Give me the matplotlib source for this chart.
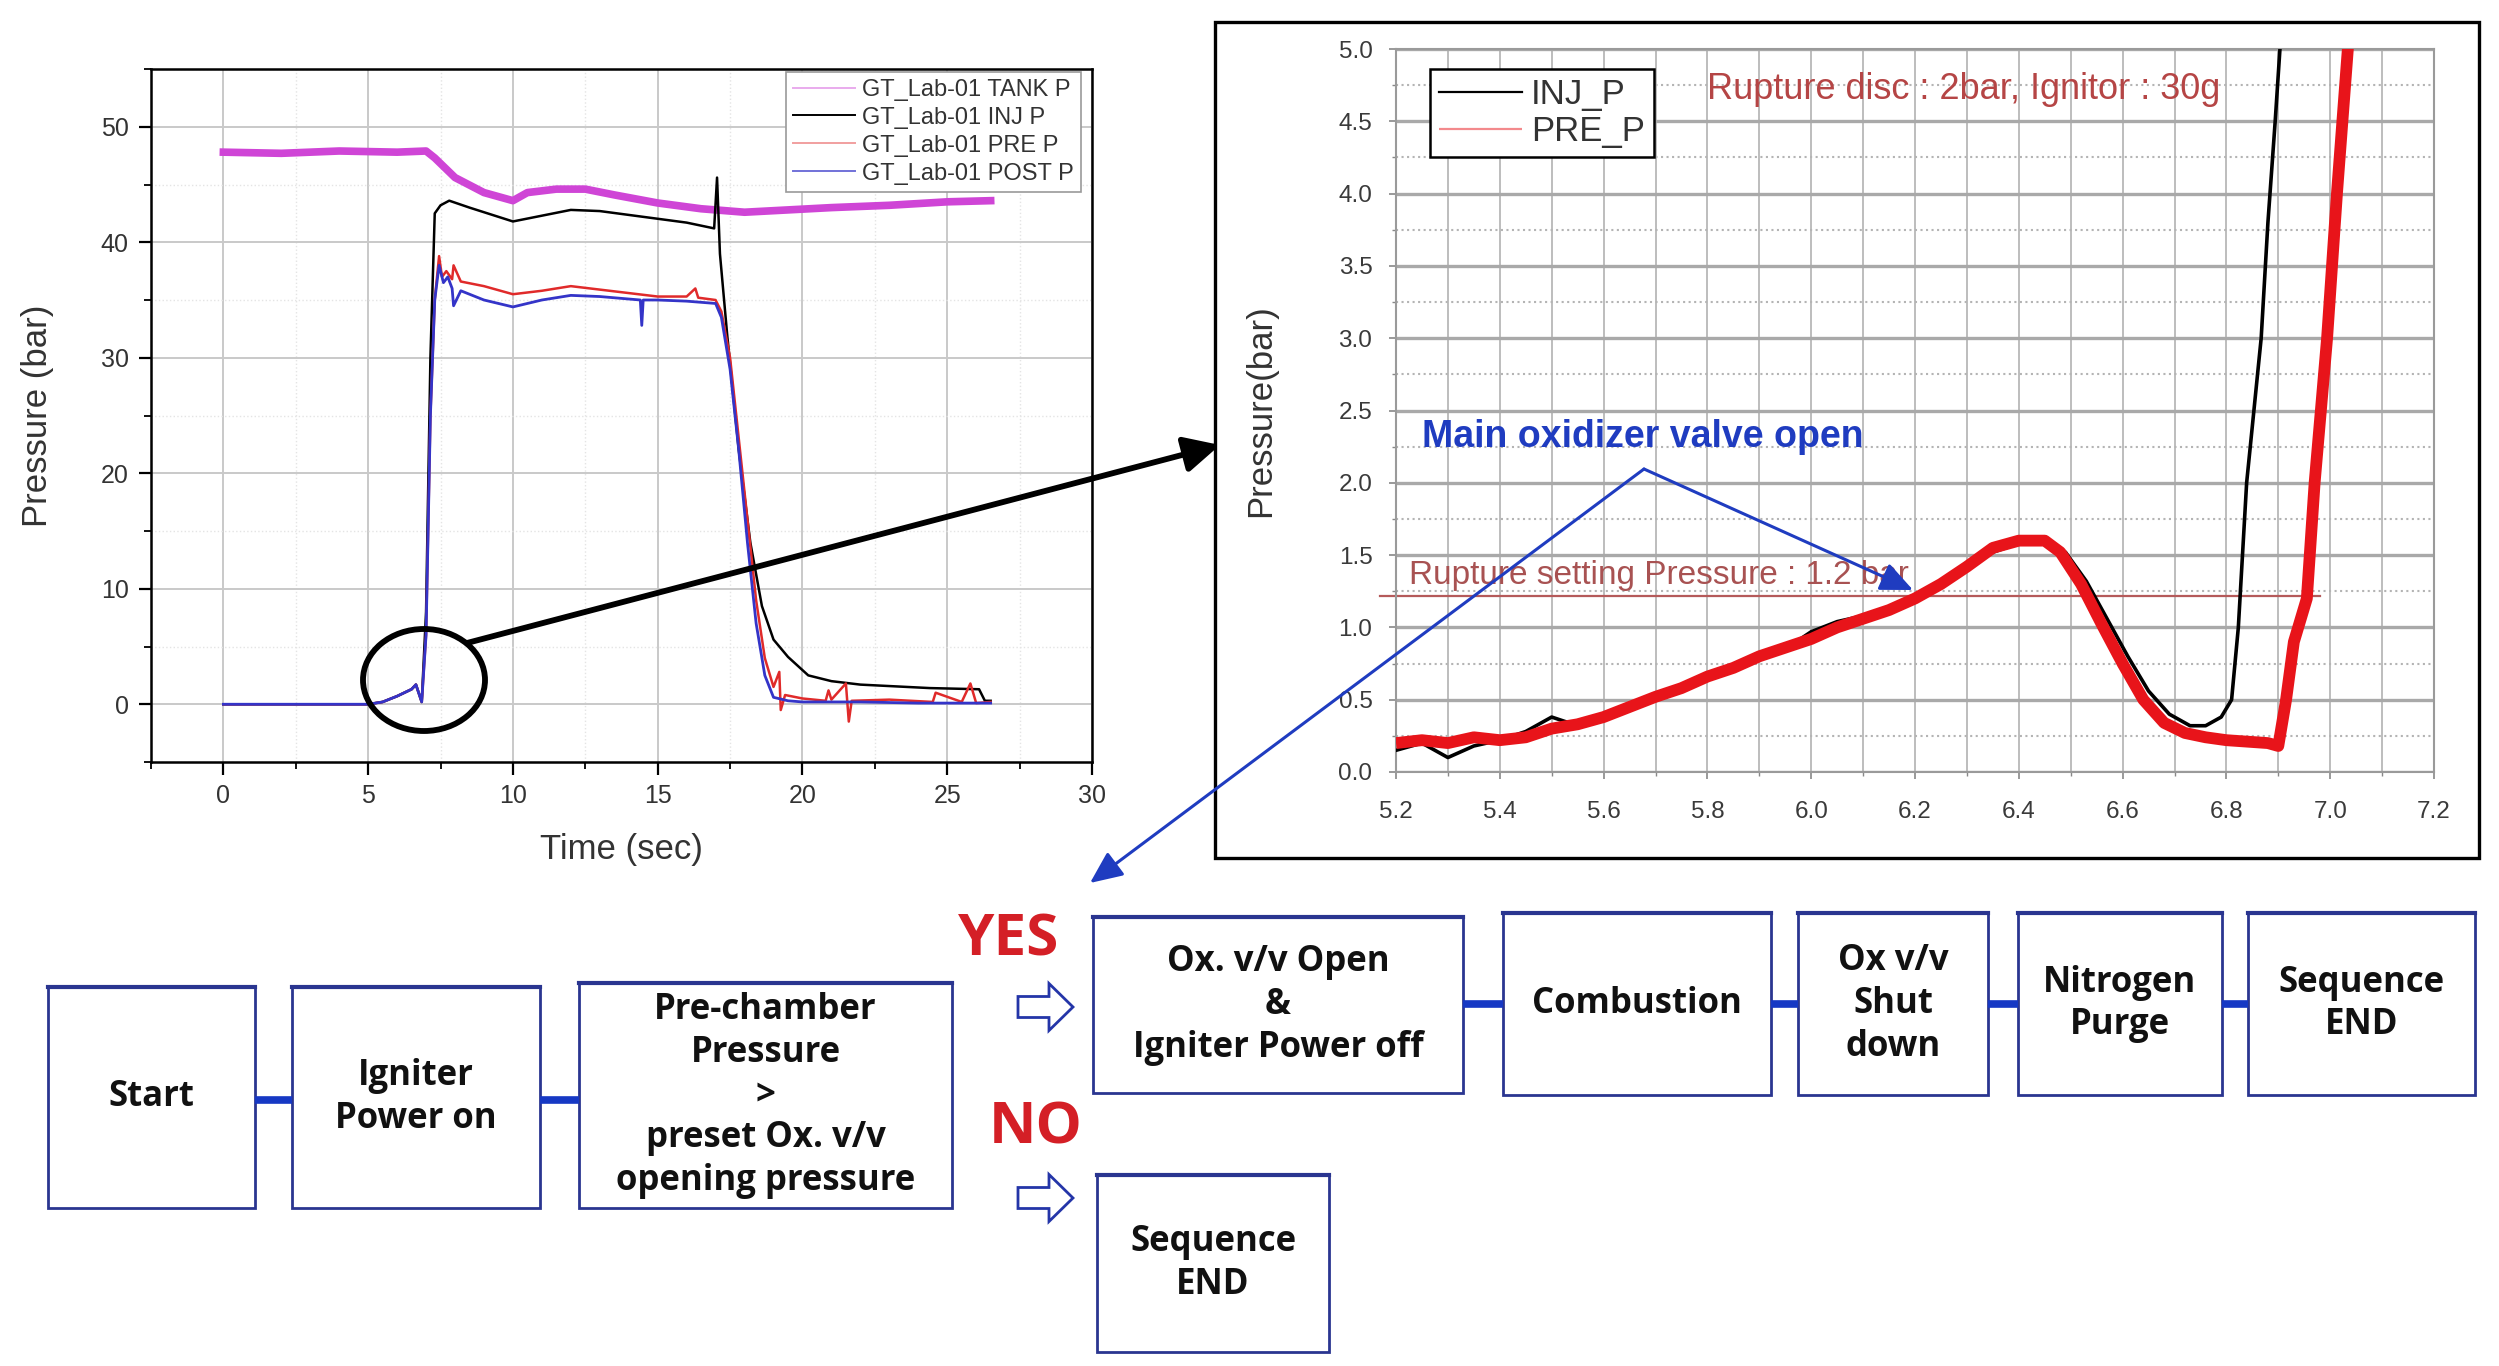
#!/usr/bin/env python3
"""Igniter sequence test: pressure history, zoomed start-up and control flow."""

import matplotlib
matplotlib.use("Agg")
import matplotlib.pyplot as plt
from matplotlib.patches import Ellipse, Polygon, Rectangle
from matplotlib.ticker import FormatStrFormatter, MultipleLocator

W, H = 2499, 1366

# ---- full firing, left panel ----
TANK_T = [0, 2, 4, 6, 7.0, 7.3, 8.0, 9.0, 10.0, 10.5, 11.5, 12.5, 13.5, 15.0, 16.5,
          18.0, 19.5, 21.0, 23.0, 25.0, 26.5]
TANK_P = [47.8, 47.7, 47.9, 47.8, 47.9, 47.3, 45.6, 44.3, 43.6, 44.3, 44.6, 44.6, 44.1,
          43.4, 42.9, 42.6, 42.8, 43.0, 43.2, 43.5, 43.6]

INJ_T = [0, 5.0, 5.5, 6.0, 6.5, 6.65, 6.85, 7.0, 7.15, 7.3, 7.5, 7.8, 8.5, 9.5, 10.0, 11.0,
         12.0, 13.0, 14.5, 16.0, 16.95, 17.05, 17.15, 17.4, 17.8, 18.2, 18.6, 19.0, 19.5,
         20.2, 21.0, 22.0, 24.4, 26.1, 26.3, 26.5]
INJ_P = [0, 0, 0.2, 0.7, 1.3, 1.7, 0.2, 8.0, 30.0, 42.5, 43.2, 43.6, 43.0, 42.2, 41.8, 42.3,
         42.8, 42.7, 42.2, 41.7, 41.2, 45.6, 39.0, 32.0, 22.0, 14.0, 8.5, 5.6, 4.1,
         2.5, 2.0, 1.7, 1.4, 1.3, 0.3, 0.3]

PRE_T = [0, 5.0, 5.5, 6.0, 6.5, 6.65, 6.85, 7.0, 7.15, 7.3, 7.45, 7.55, 7.7, 7.9, 7.95,
         8.2, 9.0, 10.0, 11.0, 12.0, 13.0, 15.0, 16.0, 16.3, 16.4, 17.0, 17.2, 17.5,
         17.8, 18.1, 18.4, 18.7, 19.0, 19.2, 19.25, 19.4, 20.0, 20.8, 20.9, 21.0, 21.5,
         21.6, 21.7, 23.0, 24.5, 24.6, 25.5, 25.8, 26.0, 26.5]
PRE_P = [0, 0, 0.2, 0.7, 1.3, 1.7, 0.2, 6.0, 25.0, 35.0, 38.8, 37.0, 37.5, 36.8, 38.0,
         36.6, 36.2, 35.5, 35.8, 36.2, 35.9, 35.3, 35.3, 36.0, 35.2, 35.0, 34.0, 30.0,
         23.0, 16.0, 9.0, 4.0, 1.5, 2.8, -0.5, 0.8, 0.5, 0.3, 1.2, 0.4, 1.8,
         -1.5, 0.3, 0.4, 0.2, 1.0, 0.2, 1.8, 0.1, 0.2]

POST_T = [0, 5.0, 5.5, 6.0, 6.5, 6.65, 6.85, 7.0, 7.15, 7.3, 7.45, 7.6, 7.75, 7.9, 7.95,
          8.2, 9.0, 10.0, 11.0, 12.0, 13.0, 14.4, 14.45, 14.5, 15.0, 16.0, 17.0, 17.2,
          17.5, 17.8, 18.1, 18.4, 18.7, 19.0, 19.5, 20.0, 22.0, 24.0, 26.5]
POST_P = [0, 0, 0.2, 0.7, 1.3, 1.7, 0.2, 6.0, 25.0, 35.0, 38.0, 36.5, 37.0, 36.0, 34.5,
          35.8, 35.0, 34.4, 35.0, 35.4, 35.3, 35.0, 32.8, 35.0, 35.0, 34.9, 34.7, 33.5,
          29.0, 22.0, 14.0, 7.0, 2.5, 0.6, 0.3, 0.2, 0.2, 0.1, 0.1]

# ---- start-up detail, right panel ----
INJ_X = [5.20, 5.25, 5.30, 5.35, 5.40, 5.45, 5.50, 5.55, 5.60, 5.65, 5.70, 5.75, 5.80,
         5.85, 5.90, 5.95, 6.00, 6.05, 6.10, 6.15, 6.20, 6.25, 6.30, 6.35, 6.40, 6.45,
         6.49, 6.53, 6.57, 6.61, 6.65, 6.69, 6.73, 6.76, 6.79, 6.81, 6.823, 6.839, 6.853,
         6.867, 6.88, 6.894, 6.905]
INJ_Y = [0.15, 0.20, 0.10, 0.18, 0.22, 0.28, 0.38, 0.32, 0.36, 0.45, 0.52, 0.56, 0.68,
         0.72, 0.80, 0.85, 0.97, 1.04, 1.08, 1.12, 1.20, 1.30, 1.42, 1.52, 1.58, 1.58,
         1.52, 1.32, 1.06, 0.80, 0.56, 0.40, 0.32, 0.32, 0.38, 0.50, 1.0, 2.0, 2.5,
         3.0, 3.8, 4.5, 5.1]

PRE_X = [5.20, 5.25, 5.30, 5.35, 5.40, 5.45, 5.50, 5.55, 5.60, 5.65, 5.70, 5.75, 5.80,
         5.85, 5.90, 5.95, 6.00, 6.05, 6.10, 6.15, 6.20, 6.25, 6.30, 6.35, 6.40, 6.45,
         6.48, 6.52, 6.56, 6.60, 6.64, 6.68, 6.72, 6.76, 6.80, 6.84, 6.88, 6.90, 6.915,
         6.93, 6.955, 6.97, 6.994, 7.013, 7.034, 7.04]
PRE_Y = [0.20, 0.22, 0.20, 0.24, 0.22, 0.24, 0.30, 0.33, 0.38, 0.45, 0.52, 0.58, 0.66,
         0.72, 0.80, 0.86, 0.92, 1.00, 1.06, 1.12, 1.20, 1.30, 1.42, 1.55, 1.60, 1.60,
         1.52, 1.30, 1.02, 0.75, 0.50, 0.34, 0.27, 0.24, 0.22, 0.21, 0.20, 0.18, 0.50,
         0.90, 1.20, 2.00, 3.00, 4.00, 5.00, 5.30]

RUPTURE_SET = 1.22

# ---- flow chart (pixel boxes of the sequence) ----
FLOW_BOXES = [
    ((48, 987, 255, 1208), "Start"),
    ((292, 987, 540, 1208), "Igniter\nPower on"),
    ((579, 983, 952, 1208), "Pre-chamber\nPressure\n>\npreset Ox. v/v\nopening pressure"),
    ((1093, 917, 1463, 1093), "Ox. v/v Open\n&\nIgniter Power off"),
    ((1503, 913, 1771, 1095), "Combustion"),
    ((1798, 913, 1988, 1095), "Ox v/v\nShut\ndown"),
    ((2018, 913, 2222, 1095), "Nitrogen\nPurge"),
    ((2248, 913, 2475, 1095), "Sequence\nEND"),
    ((1097, 1175, 1329, 1352), "Sequence\nEND"),
]

BOX_EDGE = "#2a3590"
LINK = "#1638c4"
RED_TXT = "#d41f26"
ANN_BLUE = "#1f3cc0"

fig = plt.figure(figsize=(W / 100, H / 100), dpi=100)
fig.patch.set_facecolor("white")
plt.rcParams["font.family"] = ["Liberation Sans", "DejaVu Sans"]

# ------------------------------------------------------------ left panel
ax1 = fig.add_axes([151 / W, 1 - 762 / H, 941 / W, 693 / H])
ax1.plot(TANK_T, TANK_P, color="#cf45d6", lw=5.5, label="GT_Lab-01 TANK P")
ax1.plot(INJ_T, INJ_P, color="black", lw=1.8, label="GT_Lab-01 INJ P")
ax1.plot(PRE_T, PRE_P, color="#e02a2a", lw=1.8, label="GT_Lab-01 PRE P")
ax1.plot(POST_T, POST_P, color="#3434c8", lw=2.0, label="GT_Lab-01 POST P")
ax1.set_xlim(-2.5, 30)
ax1.set_ylim(-5, 55)
ax1.xaxis.set_major_locator(MultipleLocator(5))
ax1.xaxis.set_minor_locator(MultipleLocator(2.5))
ax1.yaxis.set_major_locator(MultipleLocator(10))
ax1.yaxis.set_minor_locator(MultipleLocator(5))
ax1.set_xticks([0, 5, 10, 15, 20, 25, 30])
ax1.grid(which="major", color="#c9c9c9", lw=1.4)
ax1.grid(which="minor", color="#e4e4e4", lw=1.0, ls=":")
ax1.set_axisbelow(True)
for sp in ax1.spines.values():
    sp.set_linewidth(1.8)
ax1.tick_params(which="major", length=9, width=1.6, labelsize=18, pad=7, labelcolor="#333333")
ax1.tick_params(which="minor", length=5, width=1.3)
ax1.set_xlabel("Time (sec)", fontsize=25, color="#333333", labelpad=18)
ax1.set_ylabel("Pressure (bar)", fontsize=25, color="#333333", labelpad=34)
leg1 = ax1.legend(loc="upper right", bbox_to_anchor=(0.988, 0.996), borderaxespad=0,
                  fontsize=17, labelspacing=0.25, handlelength=2.6, handletextpad=0.3,
                  borderpad=0.3, fancybox=False, framealpha=1, edgecolor="#9a9a9a")
leg1.get_frame().set_linewidth(1.2)
for ln, a in zip(leg1.get_lines(), [0.45, 1.0, 0.45, 0.7]):
    ln.set_linewidth(1.4)
    ln.set_alpha(a)
for t in leg1.get_texts():
    t.set_color("#333333")

# ----------------------------------------------------------- right panel
ax2 = fig.add_axes([1396 / W, 1 - 772 / H, 1038 / W, 723 / H])
ax2.plot(INJ_X, INJ_Y, color="black", lw=2.6, label="INJ_P", zorder=3)
ax2.plot(PRE_X, PRE_Y, color="#e8141a", lw=8.5, solid_capstyle="butt", label="PRE_P", zorder=4)
ax2.plot([5.17, 6.98], [RUPTURE_SET, RUPTURE_SET], color="#b55a5a", lw=1.6, zorder=2,
         clip_on=False)
ax2.set_xlim(5.2, 7.2)
ax2.set_ylim(0, 5.0)
ax2.xaxis.set_major_locator(MultipleLocator(0.2))
ax2.xaxis.set_minor_locator(MultipleLocator(0.1))
ax2.yaxis.set_major_locator(MultipleLocator(0.5))
ax2.yaxis.set_minor_locator(MultipleLocator(0.25))
ax2.xaxis.set_major_formatter(FormatStrFormatter("%.1f"))
ax2.yaxis.set_major_formatter(FormatStrFormatter("%.1f"))
ax2.grid(which="major", axis="y", color="#a9a9a9", lw=2.4)
ax2.grid(which="minor", axis="y", color="#b4b4b4", lw=1.5, ls=":")
ax2.grid(which="both", axis="x", color="#bdbdbd", lw=1.4)
ax2.set_axisbelow(True)
for sp in ax2.spines.values():
    sp.set_color("#9a9a9a")
    sp.set_linewidth(1.5)
ax2.tick_params(which="major", length=5, width=1.2, color="#888888", labelsize=17.5,
                labelcolor="#3a3a3a", pad=12)
ax2.tick_params(axis="x", which="major", pad=16)
ax2.tick_params(which="minor", length=3, width=1.0, color="#888888")
ax2.set_ylabel("Pressure(bar)", fontsize=25, color="#333333", labelpad=44)
leg2 = ax2.legend(loc="upper left", bbox_to_anchor=(0.033, 0.972), borderaxespad=0,
                  fontsize=25, labelspacing=0.12, handlelength=2.4, handletextpad=0.25,
                  borderpad=0.25, fancybox=False, framealpha=1, edgecolor="black")
leg2.get_frame().set_linewidth(1.8)
for ln in leg2.get_lines():
    ln.set_linewidth(1.6)
leg2.get_lines()[1].set_alpha(0.5)
for t in leg2.get_texts():
    t.set_color("#333333")

ax2.text(5.80, 4.72, "Rupture disc : 2bar, Ignitor : 30g", color="#b54545", fontsize=26,
         va="center", ha="left", zorder=6)
ax2.text(5.225, 1.36, "Rupture setting Pressure : 1.2 bar", color="#a85252", fontsize=24,
         va="center", ha="left", zorder=6)
ax2.text(5.25, 2.32, "Main oxidizer valve open", color=ANN_BLUE, fontsize=27,
         fontweight="bold", va="center", ha="left", zorder=6)

# ------------------------------------------------- overlay: links and flow
ov = fig.add_axes([0, 0, 1, 1], zorder=10)
ov.set_xlim(0, W)
ov.set_ylim(H, 0)
ov.axis("off")

ov.add_patch(Rectangle((1215, 22), 1264, 836, fill=False, lw=2.4, ec="black"))
ov.add_patch(Ellipse((424, 680), 122, 102, fill=False, lw=4.2, ec="black"))
ov.annotate("", xy=(1220, 445), xytext=(467, 643),
            arrowprops=dict(arrowstyle="-|>,head_length=0.9,head_width=0.45", lw=4.2,
                            color="black", shrinkA=0, shrinkB=0, mutation_scale=24))

peak = (1644, 469)
for tip in [(1090, 883), (1913, 590)]:
    ov.annotate("", xy=tip, xytext=peak,
                arrowprops=dict(arrowstyle="-|>,head_length=0.9,head_width=0.4", lw=2.2,
                                color=ANN_BLUE, shrinkA=0, shrinkB=0, mutation_scale=22))

for (x0, y0, x1, y1), label in FLOW_BOXES:
    ov.add_patch(Rectangle((x0, y0), x1 - x0, y1 - y0, fill=False, lw=2.0, ec=BOX_EDGE))
    ov.plot([x0, x1], [y0, y0], color=BOX_EDGE, lw=3.0)
    ov.text((x0 + x1) / 2, (y0 + y1) / 2, label, ha="center", va="center", fontsize=25,
            fontweight="bold", family="Open Sans", color="#111111", linespacing=1.25)

links = [((255, 292), 1100), ((540, 579), 1100), ((1463, 1503), 1004),
         ((1771, 1798), 1004), ((1988, 2018), 1004), ((2222, 2248), 1004)]
for (xa, xb), y in links:
    ov.plot([xa, xb], [y, y], color=LINK, lw=5.5, solid_capstyle="butt")

for yc in (1007, 1198):
    x0, xh, xt, s, h = 1018, 1049, 1073, 10.5, 23.5
    pts = [(x0, yc - s), (xh, yc - s), (xh, yc - h), (xt, yc), (xh, yc + h),
           (xh, yc + s), (x0, yc + s)]
    ov.add_patch(Polygon(pts, closed=True, fill=False, ec="#2435a8", lw=2.0,
                         joinstyle="miter"))

ov.text(1009, 940, "YES", color=RED_TXT, fontsize=42, fontweight="bold",
        family="Open Sans", ha="center", va="center")
ov.text(1036, 1128, "NO", color=RED_TXT, fontsize=42, fontweight="bold",
        family="Open Sans", ha="center", va="center")

fig.savefig("out.png", dpi=100, facecolor="white")
